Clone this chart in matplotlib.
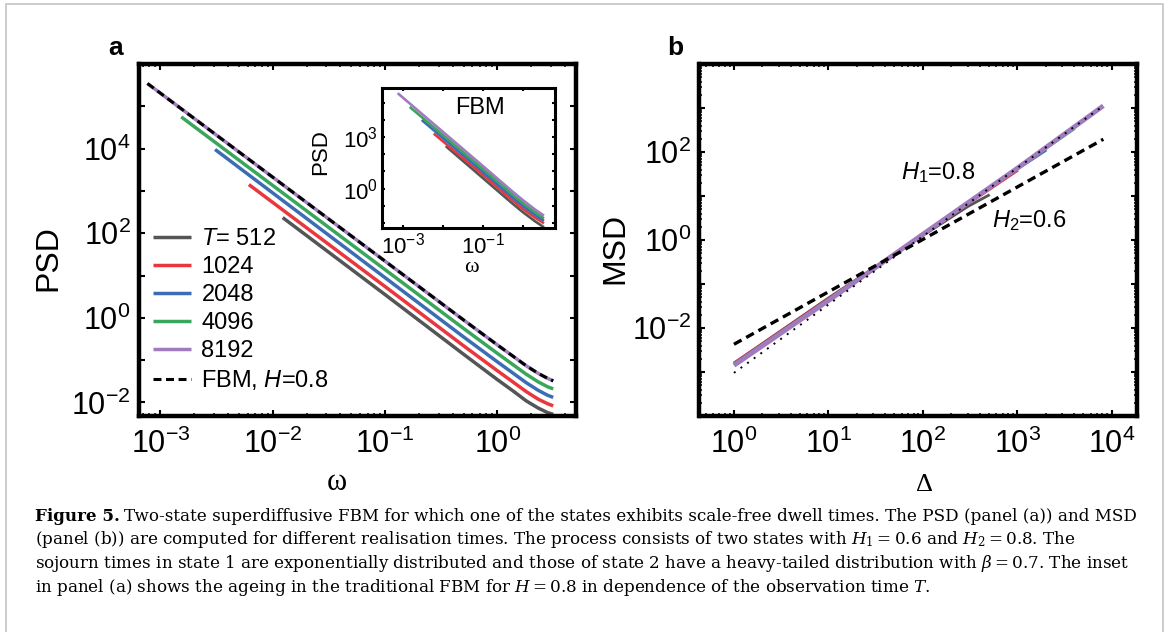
"""Two-state superdiffusive FBM: PSD (a) and MSD (b) for several realisation times."""

import matplotlib

matplotlib.use("Agg")
import matplotlib.pyplot as plt
import numpy as np
from matplotlib.patches import Rectangle
from matplotlib.ticker import FuncFormatter, LogLocator, NullLocator

# ---- panel a: PSD vs omega, log10(PSD) ----
omega_512 = [0.01227, 0.1, 0.5, 1.0, 1.4, 1.8, 2.3, 2.8, 3.1416]
lpsd_512 = [2.37, 0.55, -0.86, -1.46, -1.74, -1.96, -2.13, -2.24, -2.28]
omega_1024 = [0.00614, 0.1, 0.5, 1.0, 1.4, 1.8, 2.3, 2.8, 3.1416]
lpsd_1024 = [3.15, 0.74, -0.66, -1.25, -1.53, -1.74, -1.92, -2.03, -2.08]
omega_2048 = [0.00307, 0.1, 0.5, 1.0, 1.4, 1.8, 2.3, 2.8, 3.1416]
lpsd_2048 = [3.98, 0.95, -0.45, -1.04, -1.32, -1.53, -1.71, -1.83, -1.88]
omega_4096 = [0.001534, 0.1, 0.5, 1.0, 1.4, 1.8, 2.3, 2.8, 3.1416]
lpsd_4096 = [4.75, 1.14, -0.25, -0.84, -1.12, -1.33, -1.51, -1.63, -1.68]
omega_8192 = [0.000767, 0.1, 0.5, 1.0, 1.4, 1.8, 2.3, 2.8, 3.1416]
lpsd_8192 = [5.54, 1.34, -0.05, -0.64, -0.92, -1.13, -1.31, -1.43, -1.49]
omega_fbm = [0.000767, 0.1, 0.5, 1.0, 1.4, 1.8, 2.3, 2.8, 3.1416]
lpsd_fbm = [5.54, 1.34, -0.05, -0.64, -0.92, -1.13, -1.31, -1.43, -1.49]

# ---- inset of panel a: traditional FBM, H = 0.8 ----
inset_omega_512 = [0.01227, 0.1, 0.5, 1.0, 2.0, 3.1416]
inset_lpsd_512 = [2.42, 0.60, -0.80, -1.38, -1.90, -2.21]
inset_omega_1024 = [0.00614, 0.1, 0.5, 1.0, 2.0, 3.1416]
inset_lpsd_1024 = [3.15, 0.79, -0.61, -1.19, -1.69, -1.98]
inset_omega_2048 = [0.00307, 0.1, 0.5, 1.0, 2.0, 3.1416]
inset_lpsd_2048 = [3.94, 0.96, -0.44, -1.02, -1.53, -1.83]
inset_omega_4096 = [0.001534, 0.1, 0.5, 1.0, 2.0, 3.1416]
inset_lpsd_4096 = [4.70, 1.13, -0.27, -0.85, -1.38, -1.69]
inset_omega_8192 = [0.000767, 0.1, 0.5, 1.0, 2.0, 3.1416]
inset_lpsd_8192 = [5.50, 1.30, -0.10, -0.68, -1.22, -1.53]

# ---- panel b: MSD vs lag time Delta, log10(MSD) ----
delta_512 = [1, 10, 100, 300, 512]
lmsd_512 = [-2.80, -1.32, 0.10, 0.76, 1.03]
delta_1024 = [1, 10, 100, 1024]
lmsd_1024 = [-2.79, -1.33, 0.12, 1.58]
delta_2048 = [1, 10, 100, 1000, 2048]
lmsd_2048 = [-2.81, -1.35, 0.13, 1.60, 2.04]
delta_4096 = [1, 10, 100, 1000, 4096]
lmsd_4096 = [-2.83, -1.36, 0.13, 1.62, 2.53]
delta_8192 = [1, 10, 100, 1000, 8192]
lmsd_8192 = [-2.85, -1.38, 0.13, 1.63, 3.05]
delta_h1 = [1, 8192]
lmsd_h1 = [-3.02, 3.05]
delta_h2 = [1, 8192]
lmsd_h2 = [-2.37, 2.29]

T_LABELS = [r"$T$= 512", "1024", "2048", "4096", "8192"]
COLORS = ["#555555", "#e8383d", "#3a6db5", "#3aa65c", "#a07cbf"]

CAPTION_LINES = [
    "Two-state superdiffusive FBM for which one of the states exhibits scale-free dwell times. "
    "The PSD (panel (a)) and MSD",
    r"(panel (b)) are computed for different realisation times. The process consists of two "
    r"states with $H_1 = 0.6$ and $H_2 = 0.8$. The",
    r"sojourn times in state 1 are exponentially distributed and those of state 2 have a "
    r"heavy-tailed distribution with $\beta = 0.7$. The inset",
    r"in panel (a) shows the ageing in the traditional FBM for $H = 0.8$ in dependence of the "
    r"observation time $T$.",
]

W, H = 1167, 632

plt.rcParams.update({
    "font.family": "Liberation Sans",
    "mathtext.fontset": "custom",
    "mathtext.rm": "Liberation Sans",
    "mathtext.it": "Liberation Sans:italic",
    "mathtext.bf": "Liberation Sans:bold",
    "axes.unicode_minus": False,
})


def decade_formatter(shown):
    def fmt(value, pos):
        exp = np.log10(value)
        e = int(round(exp))
        if abs(exp - e) < 1e-6 and e in shown:
            return rf"$\mathdefault{{10^{{{e}}}}}$"
        return ""
    return FuncFormatter(fmt)


def style_axes(ax, spine_w, major_len, minor_len):
    for sp in ax.spines.values():
        sp.set_linewidth(spine_w)
    ax.tick_params(which="both", direction="in", top=True, right=True)
    ax.tick_params(which="major", length=major_len, width=1.5)
    ax.tick_params(which="minor", length=minor_len, width=1.1)


def px_axes(left, right, top, bottom):
    return [left / W, 1 - bottom / H, (right - left) / W, (bottom - top) / H]


fig = plt.figure(figsize=(W / 100, H / 100), dpi=100)
fig.patch.set_facecolor("white")

# ================= panel a =================
ax_a = fig.add_axes(px_axes(139, 576, 64, 416))
ax_a.set_xscale("log")
ax_a.set_yscale("log")
a_curves = [
    (omega_512, lpsd_512), (omega_1024, lpsd_1024), (omega_2048, lpsd_2048),
    (omega_4096, lpsd_4096), (omega_8192, lpsd_8192),
]
handles = []
for (om, lp), color in zip(a_curves, COLORS):
    (ln,) = ax_a.plot(om, 10 ** np.array(lp), color=color, lw=2.5, solid_capstyle="butt")
    handles.append(ln)
(fbm_line,) = ax_a.plot(omega_fbm, 10 ** np.array(lpsd_fbm), color="black", lw=2.2,
                        dashes=(2.6, 1.5))
handles.append(fbm_line)

ax_a.set_xlim(10 ** -3.19, 10 ** 0.70)
ax_a.set_ylim(10 ** -2.32, 1e6)
ax_a.xaxis.set_major_locator(LogLocator(base=10, numticks=20))
ax_a.xaxis.set_minor_locator(LogLocator(base=10, subs=np.arange(2, 10), numticks=20))
ax_a.yaxis.set_major_locator(LogLocator(base=10, numticks=20))
ax_a.yaxis.set_minor_locator(NullLocator())
ax_a.xaxis.set_major_formatter(decade_formatter({-3, -2, -1, 0}))
ax_a.yaxis.set_major_formatter(decade_formatter({-2, 0, 2, 4}))
style_axes(ax_a, 3.2, 4.0, 2.2)
ax_a.tick_params(which="major", labelsize=22)
ax_a.tick_params(axis="x", pad=9)
ax_a.tick_params(axis="y", pad=6)

ax_a.text(-0.208, 0.449, "PSD", transform=ax_a.transAxes, rotation=90,
          ha="center", va="center", fontsize=23)
ax_a.text(0.453, -0.1875, "ω", transform=ax_a.transAxes, ha="center", va="center",
          fontsize=22, family="Liberation Serif")

ax_a.legend(handles, T_LABELS + [r"FBM, $H$=0.8"], loc="upper left",
            bbox_to_anchor=(0.032, 0.533), frameon=False, fontsize=17,
            handlelength=1.6, handletextpad=0.45, labelspacing=0.25,
            borderpad=0, borderaxespad=0)

# ---- inset ----
ax_in = fig.add_axes(px_axes(381.7, 555, 88, 228.3))
ax_in.set_xscale("log")
ax_in.set_yscale("log")
in_curves = [
    (inset_omega_512, inset_lpsd_512), (inset_omega_1024, inset_lpsd_1024),
    (inset_omega_2048, inset_lpsd_2048), (inset_omega_4096, inset_lpsd_4096),
    (inset_omega_8192, inset_lpsd_8192),
]
for (om, lp), color in zip(in_curves, COLORS):
    ax_in.plot(om, 10 ** np.array(lp), color=color, lw=1.9)
ax_in.set_xlim(10 ** -3.54, 10 ** 0.80)
ax_in.set_ylim(10 ** -2.31, 10 ** 5.85)
ax_in.xaxis.set_major_locator(LogLocator(base=10, numticks=20))
ax_in.yaxis.set_major_locator(LogLocator(base=10, numticks=20))
ax_in.xaxis.set_minor_locator(NullLocator())
ax_in.yaxis.set_minor_locator(NullLocator())
ax_in.xaxis.set_major_formatter(decade_formatter({-3, -1}))
ax_in.yaxis.set_major_formatter(decade_formatter({0, 3}))
style_axes(ax_in, 2.2, 2.5, 1.5)
ax_in.tick_params(which="major", labelsize=16, pad=3)
ax_in.text(-0.35, 0.544, "PSD", transform=ax_in.transAxes, rotation=90,
           ha="center", va="center", fontsize=16)
ax_in.text(0.515, -0.276, "ω", transform=ax_in.transAxes, ha="center", va="center",
           fontsize=16, family="Liberation Serif")
ax_in.text(0.567, 0.86, "FBM", transform=ax_in.transAxes, ha="center", va="center",
           fontsize=17)

# ================= panel b =================
ax_b = fig.add_axes(px_axes(699.5, 1137, 64, 416))
ax_b.set_xscale("log")
ax_b.set_yscale("log")
b_curves = [
    (delta_512, lmsd_512), (delta_1024, lmsd_1024), (delta_2048, lmsd_2048),
    (delta_4096, lmsd_4096), (delta_8192, lmsd_8192),
]
widths = [2.0, 1.6, 1.6, 1.6, 3.4]
for (dl, lm), color, lw in zip(b_curves, COLORS, widths):
    ax_b.plot(dl, 10 ** np.array(lm), color=color, lw=lw, solid_capstyle="butt")
ax_b.plot(delta_h1, 10 ** np.array(lmsd_h1), color="black", lw=1.4, dashes=(1.0, 3.2))
ax_b.plot(delta_h2, 10 ** np.array(lmsd_h2), color="black", lw=2.4, dashes=(2.6, 1.6))

ax_b.set_xlim(10 ** -0.365, 10 ** 4.27)
ax_b.set_ylim(1e-4, 1e4)
for axis in (ax_b.xaxis, ax_b.yaxis):
    axis.set_major_locator(LogLocator(base=10, numticks=20))
    axis.set_minor_locator(LogLocator(base=10, subs=np.arange(2, 10), numticks=20))
ax_b.xaxis.set_major_formatter(decade_formatter({0, 1, 2, 3, 4}))
ax_b.yaxis.set_major_formatter(decade_formatter({-2, 0, 2}))
style_axes(ax_b, 3.2, 4.0, 2.2)
ax_b.tick_params(which="major", labelsize=22)
ax_b.tick_params(axis="x", pad=9)
ax_b.tick_params(axis="y", pad=6)

ax_b.text(-0.193, 0.477, "MSD", transform=ax_b.transAxes, rotation=90,
          ha="center", va="center", fontsize=23)
ax_b.text(0.515, -0.196, "Δ", transform=ax_b.transAxes, ha="center", va="center",
          fontsize=19, family="Liberation Serif")
ax_b.text(0.461, 0.673, r"$H_1$=0.8", transform=ax_b.transAxes, ha="left",
          va="baseline", fontsize=17)
ax_b.text(0.669, 0.537, r"$H_2$=0.6", transform=ax_b.transAxes, ha="left",
          va="baseline", fontsize=17)

# panel letters
fig.text(108 / W, 1 - 55 / H, "a", fontsize=19, fontweight="bold", va="baseline")
fig.text(667 / W, 1 - 55 / H, "b", fontsize=19, fontweight="bold", va="baseline")

# ---- caption ----
cap_fs = 12.1
baselines = [520.7, 544.5, 568.3, 592.0]
renderer = fig.canvas.get_renderer()
for i, (line, base) in enumerate(zip(CAPTION_LINES, baselines)):
    x0 = 35
    if i == 0:
        t = fig.text(x0 / W, 1 - base / H, "Figure 5.", fontsize=cap_fs, fontweight="bold",
                     family="DejaVu Serif", va="baseline")
        x0 = t.get_window_extent(renderer).x1 + 4
    fig.text(x0 / W, 1 - base / H, line, fontsize=cap_fs, family="DejaVu Serif",
             math_fontfamily="dejavuserif", va="baseline")

# light grey page frame
fig.add_artist(Rectangle((6 / W, -0.05), (1163 - 6) / W, 1 - 4 / H + 0.05,
                         transform=fig.transFigure, fill=False, edgecolor="#c4c4c4", lw=1.2))

fig.savefig("out.png", dpi=100)
